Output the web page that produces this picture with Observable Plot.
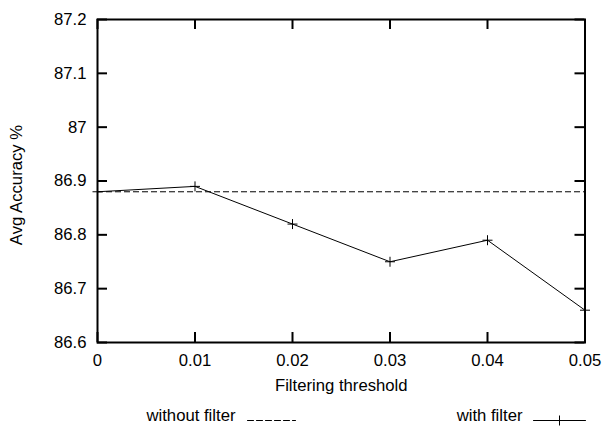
<!DOCTYPE html>
<html><head><meta charset="utf-8">
<script src="https://cdn.jsdelivr.net/npm/d3@7"></script>
<script src="https://cdn.jsdelivr.net/npm/@observablehq/plot@0.6"></script>
<style>body{margin:0;background:#fff}</style>
</head><body><div id="chart"></div>
<script>
// ---- data ----
const thresholds = [0, 0.01, 0.02, 0.03, 0.04, 0.05];
const withFilter = [86.88, 86.89, 86.82, 86.75, 86.79, 86.66];
const withoutFilter = [86.88];
const xTickLabels = ["0", "0.01", "0.02", "0.03", "0.04", "0.05"];
const yTicks = [86.6, 86.7, 86.8, 86.9, 87, 87.1, 87.2];
const yTickLabels = ["86.6", "86.7", "86.8", "86.9", "87", "87.1", "87.2"];
const seriesNames = ["without filter", "with filter"];
const xLabel = ["Filtering threshold"];
const yLabel = ["Avg Accuracy %"];

// ---- layout ----
const W = 605, H = 430, mL = 97, mR = 20.5, mT = 19, mB = 88;
const pw = W - mL - mR, ph = H - mT - mB;
const tk = 10;
const font = "'Liberation Sans', Arial, Helvetica, sans-serif";
const fs = 16.7;

const rows = thresholds.map((t, i) => ({t, v: withFilter[i]}));
const plus = {draw(ctx, size) { const h = Math.sqrt(size / Math.PI); ctx.moveTo(-h, 0); ctx.lineTo(h, 0); ctx.moveTo(0, -h); ctx.lineTo(0, h); }};
const seg = {draw(ctx, l) { ctx.moveTo(0, 0); ctx.lineTo(0, -l); }};

const chart = Plot.plot({
  width: W, height: H,
  marginLeft: mL, marginRight: mR, marginTop: mT, marginBottom: mB,
  style: {fontFamily: font, fontSize: fs + "px", color: "#000", background: "#fff", overflow: "visible"},
  x: {domain: [0, 0.05]},
  y: {domain: [86.6, 87.2]},
  marks: [
    // tick marks (inward, mirrored)
    Plot.ruleX(thresholds, {x: d => d, insetTop: ph - tk, stroke: "#000", strokeWidth: 2}),
    Plot.ruleX(thresholds, {x: d => d, insetBottom: ph - tk, stroke: "#000", strokeWidth: 2}),
    Plot.ruleY(yTicks, {y: d => d, insetRight: pw - tk, stroke: "#000", strokeWidth: 2}),
    Plot.ruleY(yTicks, {y: d => d, insetLeft: pw - tk, stroke: "#000", strokeWidth: 2}),
    // tick labels
    Plot.axisX(thresholds, {tickSize: 0, tickPadding: 12, label: null, fontSize: fs,
      tickFormat: d => xTickLabels[thresholds.indexOf(d)]}),
    Plot.axisY(yTicks, {tickSize: 0, tickPadding: 11, label: null, fontSize: fs,
      tickFormat: d => yTickLabels[yTicks.indexOf(d)]}),
    // axis titles
    Plot.text(xLabel, {frameAnchor: "bottom", text: d => d, textAnchor: "middle", lineAnchor: "top", dy: 37, fontSize: fs, fill: "#000"}),
    Plot.text(yLabel, {frameAnchor: "left", text: d => d, rotate: -90, textAnchor: "middle", lineAnchor: "middle", dx: -81, dy: 4, fontSize: fs, fill: "#000"}),
    // series
    Plot.ruleY(withoutFilter, {y: d => d, stroke: "#000", strokeWidth: 1, strokeDasharray: "6,3"}),
    Plot.line(rows, {x: "t", y: "v", stroke: "#000", strokeWidth: 1}),
    Plot.dot(rows, {x: "t", y: "v", symbol: plus, r: 5, stroke: "#000", strokeWidth: 1, fill: "none"}),
    // frame
    Plot.frame({stroke: "#000", strokeWidth: 2}),
    // legend
    Plot.text([seriesNames[0]], {frameAnchor: "bottom-left", text: d => d, textAnchor: "end", dx: 235 - mL, dy: 78, fontSize: fs, fill: "#000"}),
    Plot.vector([0], {frameAnchor: "bottom-left", dx: 247 - mL, dy: 78, rotate: 90, length: 48, anchor: "start", shape: seg, stroke: "#000", strokeWidth: 1, strokeDasharray: "6,3"}),
    Plot.text([seriesNames[1]], {frameAnchor: "bottom-right", text: d => d, textAnchor: "end", dx: 522 - (W - mR), dy: 78, fontSize: fs, fill: "#000"}),
    Plot.vector([0], {frameAnchor: "bottom-right", dx: 533 - (W - mR), dy: 78, rotate: 90, length: 52, anchor: "start", shape: seg, stroke: "#000", strokeWidth: 1}),
    Plot.dot([0], {frameAnchor: "bottom-right", dx: 559 - (W - mR), dy: 78, symbol: plus, r: 5, stroke: "#000", strokeWidth: 1, fill: "none"})
  ]
});
document.getElementById("chart").appendChild(chart);
</script>
</body></html>
